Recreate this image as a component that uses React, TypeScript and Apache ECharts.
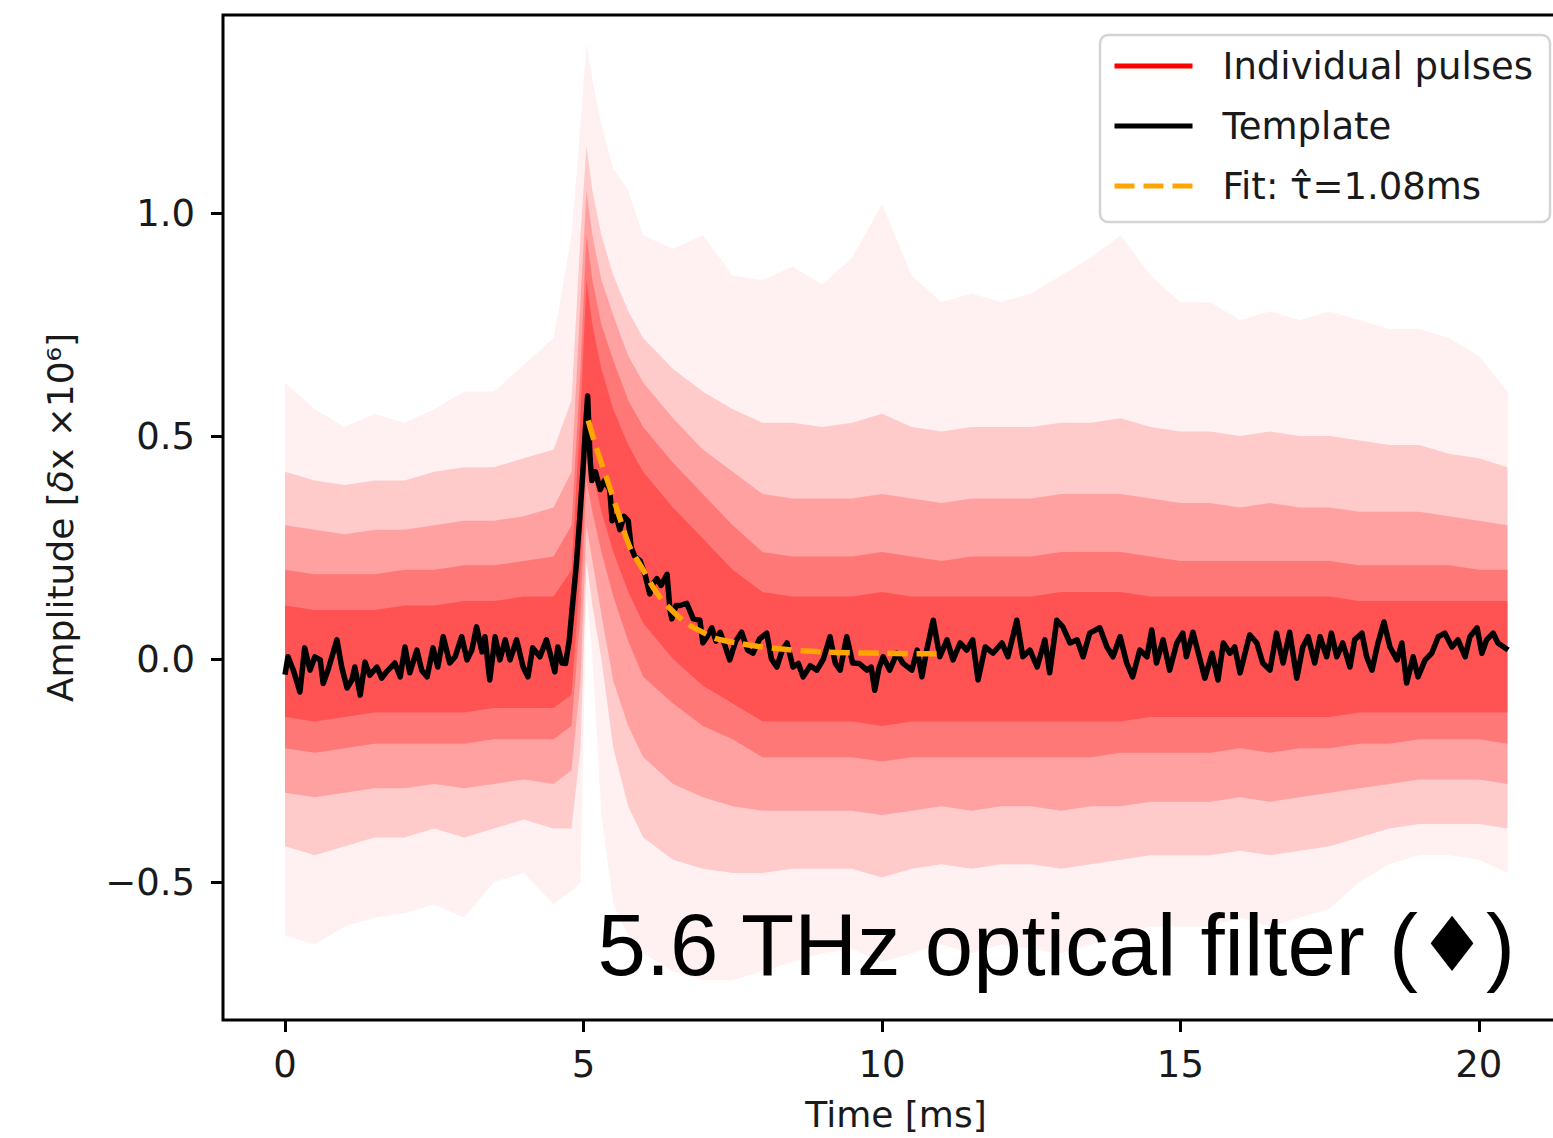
import { useEffect, useRef } from 'react';
import * as echarts from 'echarts';

const X_TICKS = [0, 5, 10, 15, 20];
const Y_TICKS = [-0.5, 0, 0.5, 1.0];

// Template (black)
const TEMPLATE_T = [
  0.00, 0.05, 0.14, 0.25, 0.33, 0.42, 0.50, 0.59, 0.64, 0.72, 0.87, 0.95, 1.04, 1.12, 1.17, 1.26, 1.34, 1.42, 1.54, 1.62,
  1.70, 1.84, 1.93, 2.01, 2.09, 2.21, 2.29, 2.38, 2.48, 2.56, 2.65, 2.76, 2.85, 2.96, 3.05, 3.13, 3.21, 3.30, 3.35, 3.43,
  3.52, 3.60, 3.69, 3.77, 3.88, 3.99, 4.07, 4.15, 4.27, 4.38, 4.47, 4.52, 4.57, 4.64, 4.70, 4.76, 4.83, 4.88, 4.94, 4.99,
  5.03, 5.07, 5.11, 5.14, 5.20, 5.28, 5.35, 5.44, 5.48, 5.55, 5.61, 5.68, 5.75, 5.80, 5.86, 5.95, 6.03, 6.11, 6.17, 6.23,
  6.30, 6.40, 6.45, 6.48, 6.55, 6.62, 6.73, 6.84, 6.95, 7.00, 7.07, 7.15, 7.22, 7.29, 7.37, 7.45, 7.55, 7.65, 7.75, 7.84,
  7.95, 8.07, 8.15, 8.24, 8.33, 8.41, 8.51, 8.60, 8.68, 8.80, 8.91, 9.02, 9.13, 9.22, 9.30, 9.41, 9.51, 9.62, 9.75, 9.82,
  9.88, 9.95, 10.02, 10.13, 10.25, 10.35, 10.50, 10.59, 10.67, 10.75, 10.86, 10.97, 11.09, 11.19, 11.31, 11.42, 11.52, 11.61, 11.73, 11.86,
  12.01, 12.11, 12.26, 12.36, 12.48, 12.60, 12.73, 12.81, 12.93, 13.03, 13.15, 13.27, 13.37, 13.48, 13.65, 13.77, 13.87, 13.99, 14.10, 14.20,
  14.32, 14.44, 14.52, 14.60, 14.71, 14.82, 14.94, 15.04, 15.10, 15.21, 15.33, 15.41, 15.53, 15.63, 15.72, 15.83, 15.91, 16.00, 16.16, 16.28,
  16.38, 16.50, 16.61, 16.72, 16.83, 16.95, 17.05, 17.14, 17.25, 17.34, 17.45, 17.53, 17.62, 17.72, 17.84, 17.92, 18.04, 18.12, 18.21, 18.31,
  18.41, 18.51, 18.63, 18.71, 18.79, 18.90, 18.98, 19.10, 19.21, 19.32, 19.43, 19.55, 19.65, 19.77, 19.85, 19.97, 20.05, 20.13, 20.24, 20.32,
  20.49,
];
const TEMPLATE_V = [
  -0.035, 0.005, -0.025, -0.074, 0.025, -0.025, 0.005, -0.002, -0.055, -0.025, 0.043, -0.018, -0.065, -0.047, -0.018, -0.081, -0.007, -0.036, -0.018, -0.043,
  -0.029, -0.009, -0.040, 0.027, -0.031, 0.020, -0.025, -0.040, 0.025, -0.018, 0.050, -0.009, 0.005, 0.050, -0.002, 0.020, 0.072, 0.016, 0.050, -0.047,
  0.050, -0.002, 0.043, -0.002, 0.043, -0.018, -0.040, 0.025, 0.005, 0.043, -0.002, -0.029, 0.027, -0.009, -0.010, 0.040, 0.140, 0.210, 0.320, 0.420,
  0.510, 0.590, 0.450, 0.400, 0.420, 0.380, 0.400, 0.380, 0.310, 0.320, 0.290, 0.320, 0.310, 0.250, 0.230, 0.220, 0.190, 0.146, 0.170, 0.180,
  0.165, 0.190, 0.110, 0.090, 0.120, 0.120, 0.125, 0.090, 0.087, 0.036, 0.050, 0.070, 0.040, 0.060, 0.030, -0.002, 0.040, 0.060, 0.020, 0.013,
  0.045, 0.058, 0.000, -0.018, 0.020, 0.036, -0.018, -0.010, -0.040, -0.015, -0.025, 0.000, 0.050, -0.010, -0.025, 0.050, -0.009, -0.010, -0.025, -0.018,
  -0.070, -0.020, 0.005, -0.025, 0.013, -0.009, -0.025, 0.020, -0.040, 0.020, 0.087, 0.005, 0.043, -0.002, 0.036, 0.020, 0.043, -0.047, 0.027, 0.013,
  0.036, 0.005, 0.087, 0.005, 0.020, -0.018, 0.043, -0.031, 0.087, 0.072, 0.036, 0.043, 0.005, 0.058, 0.070, 0.027, 0.005, 0.050, -0.009, -0.040,
  0.020, 0.005, 0.065, -0.009, 0.043, -0.025, 0.036, 0.058, 0.005, 0.060, -0.002, -0.043, 0.013, -0.047, 0.036, 0.013, 0.027, -0.031, 0.054, 0.036,
  -0.009, -0.025, 0.058, -0.009, 0.060, -0.043, 0.027, 0.050, -0.009, 0.050, 0.005, 0.058, 0.005, 0.036, -0.018, 0.043, 0.058, 0.005, -0.025, 0.036,
  0.083, 0.027, -0.002, 0.036, -0.054, 0.005, -0.040, -0.002, 0.013, 0.050, 0.058, 0.027, 0.043, 0.005, 0.050, 0.070, 0.013, 0.043, 0.058, 0.036,
  0.020,
];

// Exponential fit (orange dashed)
const FIT_T = [5.08, 5.2, 5.39, 5.6, 5.78, 6.0, 6.17, 6.4, 6.73, 7.0, 7.24, 7.62, 8.0, 8.5, 9.0, 9.5, 10.0, 10.5, 11.05];
const FIT_V = [0.535, 0.48, 0.405, 0.32, 0.25, 0.2, 0.16, 0.12, 0.08, 0.06, 0.045, 0.035, 0.027, 0.02, 0.016, 0.014, 0.013, 0.012, 0.012];

// Density contours of the individual pulses (red cloud)
const ENV_T = [
  0, 0.5, 1, 1.5, 2, 2.5, 3, 3.5, 4, 4.5,
  4.8, 4.95, 5.05, 5.15, 5.3, 5.5, 5.75, 6, 6.5, 7, 7.5,
  8, 8.5, 9, 9.5, 10, 10.5, 11, 11.5, 12, 12.5, 13, 13.5, 14, 14.5, 15, 15.5, 16, 16.5, 17, 17.5, 18, 18.5, 19, 19.5, 20, 20.48,
];
const OUTER_HI = [
  0.62, 0.56, 0.52, 0.55, 0.53, 0.56, 0.6, 0.6, 0.66, 0.72,
  0.95, 1.2, 1.38, 1.3, 1.2, 1.1, 1.05, 0.95, 0.92, 0.95, 0.86,
  0.85, 0.88, 0.84, 0.9, 1.02, 0.86, 0.8, 0.82, 0.8, 0.82, 0.86, 0.9, 0.95, 0.86, 0.8, 0.8, 0.76, 0.78, 0.76, 0.78, 0.76, 0.74, 0.74, 0.72, 0.68, 0.6,
];
const OUTER_LO = [
  -0.62, -0.64, -0.6, -0.58, -0.57, -0.55, -0.58, -0.5, -0.48, -0.55,
  -0.52, -0.5, 0.15, 0.0, -0.35, -0.55, -0.62, -0.66, -0.7, -0.72, -0.72,
  -0.7, -0.68, -0.66, -0.65, -0.68, -0.66, -0.64, -0.66, -0.64, -0.65, -0.66, -0.64, -0.62, -0.6, -0.6, -0.6, -0.58, -0.6, -0.58, -0.56, -0.5, -0.46, -0.44, -0.44, -0.45, -0.48,
];
const MID_HI = [
  0.42, 0.4, 0.39, 0.4, 0.4, 0.42, 0.43, 0.43, 0.45, 0.47,
  0.58, 0.95, 1.15, 1.05, 0.95, 0.86, 0.78, 0.72, 0.65, 0.6, 0.56,
  0.53, 0.53, 0.52, 0.53, 0.55, 0.52, 0.51, 0.52, 0.52, 0.52, 0.53, 0.53, 0.54, 0.52, 0.51, 0.51, 0.5, 0.51, 0.5, 0.5, 0.49, 0.48, 0.48, 0.46, 0.45, 0.43,
];
const MID_LO = [
  -0.42, -0.44, -0.42, -0.4, -0.4, -0.38, -0.4, -0.38, -0.36, -0.38,
  -0.38, -0.2, 0.22, 0.12, 0.0, -0.2, -0.33, -0.4, -0.45, -0.47, -0.48,
  -0.48, -0.47, -0.47, -0.47, -0.49, -0.47, -0.46, -0.47, -0.46, -0.46, -0.47, -0.46, -0.45, -0.44, -0.44, -0.44, -0.43, -0.44, -0.43, -0.42, -0.4, -0.38, -0.37, -0.37, -0.37, -0.38,
];
const INNER_HI = [
  0.3, 0.29, 0.28, 0.29, 0.29, 0.3, 0.31, 0.31, 0.32, 0.34,
  0.42, 0.8, 1.05, 0.95, 0.85, 0.77, 0.68, 0.62, 0.54, 0.47, 0.42,
  0.37, 0.36, 0.36, 0.36, 0.37, 0.36, 0.35, 0.36, 0.36, 0.36, 0.37, 0.37, 0.37, 0.36, 0.35, 0.35, 0.34, 0.35, 0.34, 0.34, 0.33, 0.33, 0.33, 0.32, 0.31, 0.3,
];
const INNER_LO = [
  -0.3, -0.31, -0.3, -0.29, -0.29, -0.28, -0.29, -0.28, -0.27, -0.28,
  -0.25, -0.05, 0.3, 0.22, 0.1, -0.05, -0.15, -0.22, -0.28, -0.31, -0.33,
  -0.34, -0.34, -0.34, -0.34, -0.35, -0.34, -0.33, -0.34, -0.33, -0.33, -0.34, -0.33, -0.33, -0.32, -0.32, -0.32, -0.31, -0.32, -0.31, -0.3, -0.29, -0.28, -0.27, -0.27, -0.27, -0.28,
];
const CORE_HI = [
  0.2, 0.19, 0.19, 0.19, 0.2, 0.2, 0.21, 0.21, 0.22, 0.23,
  0.3, 0.65, 0.95, 0.85, 0.75, 0.67, 0.58, 0.52, 0.44, 0.37, 0.3,
  0.24, 0.23, 0.23, 0.23, 0.24, 0.23, 0.22, 0.23, 0.23, 0.23, 0.24, 0.24, 0.24, 0.23, 0.22, 0.22, 0.22, 0.22, 0.22, 0.22, 0.21, 0.21, 0.21, 0.21, 0.2, 0.2,
];
const CORE_LO = [
  -0.2, -0.21, -0.2, -0.19, -0.19, -0.19, -0.19, -0.18, -0.18, -0.18,
  -0.15, 0.1, 0.4, 0.33, 0.24, 0.14, 0.04, -0.04, -0.1, -0.15, -0.18,
  -0.22, -0.22, -0.22, -0.22, -0.23, -0.22, -0.22, -0.22, -0.22, -0.22, -0.22, -0.22, -0.21, -0.21, -0.21, -0.21, -0.2, -0.21, -0.2, -0.2, -0.19, -0.19, -0.18, -0.18, -0.18, -0.19,
];
const CENTER_HI = [
  0.12, 0.11, 0.11, 0.11, 0.12, 0.12, 0.13, 0.13, 0.14, 0.14,
  0.2, 0.55, 0.85, 0.75, 0.65, 0.56, 0.48, 0.42, 0.34, 0.27, 0.2,
  0.15, 0.14, 0.14, 0.14, 0.15, 0.14, 0.14, 0.14, 0.14, 0.14, 0.15, 0.15, 0.15, 0.14, 0.14, 0.14, 0.14, 0.14, 0.14, 0.14, 0.13, 0.13, 0.13, 0.13, 0.13, 0.13,
];
const CENTER_LO = [
  -0.13, -0.14, -0.13, -0.12, -0.12, -0.12, -0.12, -0.11, -0.11, -0.11,
  -0.08, 0.2, 0.48, 0.42, 0.33, 0.24, 0.15, 0.08, 0.0, -0.06, -0.1,
  -0.14, -0.14, -0.14, -0.14, -0.15, -0.14, -0.14, -0.14, -0.14, -0.14, -0.14, -0.14, -0.14, -0.13, -0.13, -0.13, -0.13, -0.13, -0.13, -0.13, -0.12, -0.12, -0.12, -0.12, -0.12, -0.12,
];

const NAME_PULSES = 'Individual pulses';
const NAME_TEMPLATE = 'Template';
const NAME_FIT = 'Fit: \u03c4\u0302=1.08ms';

const TICK_FONT = '"DejaVu Sans", sans-serif';

function bandSeries(id: string, hi: number[], lo: number[], color: string, z: number) {
  return {
    type: 'custom',
    id,
    name: id,
    coordinateSystem: 'cartesian2d',
    silent: true,
    z,
    data: [[ENV_T[0], lo[0]]],
    renderItem: (_params: any, api: any) => {
      const pts: number[][] = [];
      for (let i = 0; i < ENV_T.length; i++) pts.push(api.coord([ENV_T[i], hi[i]]));
      for (let i = ENV_T.length - 1; i >= 0; i--) pts.push(api.coord([ENV_T[i], lo[i]]));
      return { type: 'polygon', shape: { points: pts }, style: { fill: color } };
    },
  };
}

function fmtY(v: number) {
  const s = Math.abs(v).toFixed(1);
  return v < 0 ? '\u2212' + s : s;
}

export default function App() {
  const ref = useRef<HTMLDivElement>(null);
  useEffect(() => {
    if (!ref.current) return;
    const chart = echarts.init(ref.current, null, { renderer: 'svg' });
    const option: any = {
      animation: false,
      backgroundColor: '#ffffff',
      grid: {
        left: 223,
        top: 15,
        width: 1346,
        height: 1005,
        containLabel: false,
        outerBoundsMode: 'none',
        show: true,
        borderColor: '#000',
        borderWidth: 3,
        backgroundColor: 'transparent',
      },
      legend: {
        orient: 'vertical',
        left: 1100,
        top: 35,
        padding: [9, 17, 14, 12],
        itemWidth: 78,
        itemHeight: 20,
        itemGap: 16,
        selectedMode: false,
        backgroundColor: 'rgba(255,255,255,0.85)',
        borderColor: '#d4d4d4',
        borderWidth: 2.5,
        borderRadius: 8,
        itemStyle: { opacity: 0, color: 'rgba(0,0,0,0)', borderWidth: 0 },
        lineStyle: { width: 5 },
        textStyle: {
          fontFamily: TICK_FONT,
          fontSize: 37,
          color: '#1a1a1a',
          lineHeight: 44,
          padding: [0, 0, 0, 25],
        },
        data: [{ name: NAME_PULSES }, { name: NAME_TEMPLATE }, { name: NAME_FIT }],
      },
      xAxis: {
        type: 'value',
        min: -1.0385,
        max: 21.51,
        name: 'Time [ms]',
        nameLocation: 'middle',
        nameGap: 76,
        nameTextStyle: { fontFamily: TICK_FONT, fontSize: 36, color: '#1a1a1a' },
        axisLine: { show: false, onZero: false },
        axisTick: { show: true, customValues: X_TICKS, length: 12, lineStyle: { color: '#000', width: 3 } },
        axisLabel: {
          customValues: X_TICKS,
          margin: 26,
          fontFamily: TICK_FONT,
          fontSize: 37,
          color: '#1a1a1a',
          formatter: (v: number) => String(v),
        },
        splitLine: { show: false },
      },
      yAxis: {
        type: 'value',
        min: -0.8094,
        max: 1.444,
        name: 'Amplitude [{i|\u03b4}x \u00d710\u2076]',
        nameLocation: 'middle',
        nameGap: 145,
        nameRotate: 90,
        nameTextStyle: {
          fontFamily: TICK_FONT,
          fontSize: 36,
          color: '#1a1a1a',
          rich: { i: { fontFamily: TICK_FONT, fontSize: 36, fontStyle: 'italic', color: '#1a1a1a' } },
        },
        axisLine: { show: false, onZero: false },
        axisTick: { show: true, customValues: Y_TICKS, length: 12, lineStyle: { color: '#000', width: 3 } },
        axisLabel: {
          customValues: Y_TICKS,
          margin: 28,
          fontFamily: TICK_FONT,
          fontSize: 37,
          color: '#1a1a1a',
          formatter: fmtY,
        },
        splitLine: { show: false },
      },
      series: [
        bandSeries('pulses-outer', OUTER_HI, OUTER_LO, 'rgba(255,0,0,0.055)', 1),
        bandSeries('pulses-mid', MID_HI, MID_LO, 'rgba(255,0,0,0.16)', 2),
        bandSeries('pulses-inner', INNER_HI, INNER_LO, 'rgba(255,0,0,0.2)', 3),
        bandSeries('pulses-core', CORE_HI, CORE_LO, 'rgba(255,0,0,0.25)', 4),
        bandSeries('pulses-center', CENTER_HI, CENTER_LO, 'rgba(255,0,0,0.3)', 4),
        {
          type: 'line',
          name: NAME_PULSES,
          data: [],
          symbol: 'none',
          color: '#ff0000',
          lineStyle: { color: '#ff0000', width: 5 },
        },
        {
          type: 'line',
          name: NAME_TEMPLATE,
          z: 5,
          symbol: 'none',
          showSymbol: false,
          color: '#000000',
          lineStyle: { color: '#000000', width: 5.5, join: 'round' },
          data: TEMPLATE_T.map((t, i) => [t, TEMPLATE_V[i]]),
        },
        {
          type: 'line',
          name: NAME_FIT,
          z: 6,
          symbol: 'none',
          showSymbol: false,
          smooth: 0.3,
          color: '#ffa500',
          lineStyle: { color: '#ffa500', width: 5.5, type: [20, 9] },
          data: FIT_T.map((t, i) => [t, FIT_V[i]]),
        },
      ],
      graphic: [
        {
          type: 'text',
          x: 1515,
          y: 944,
          z: 100,
          style: {
            text: '5.6 THz optical filter ({d|\u2666})',
            font: '87px "Liberation Sans", Arial, sans-serif',
            fill: '#000',
            align: 'right',
            verticalAlign: 'middle',
            rich: {
              d: { fontFamily: '"DejaVu Sans", sans-serif', fontSize: 76, fill: '#000' },
            },
          },
        },
      ],
    };
    chart.setOption(option);
    return () => chart.dispose();
  }, []);
  return (
    <div
      ref={ref}
      style={{ position: 'fixed', left: 0, top: 0, width: 1553, height: 1138, background: '#fff' }}
    />
  );
}
